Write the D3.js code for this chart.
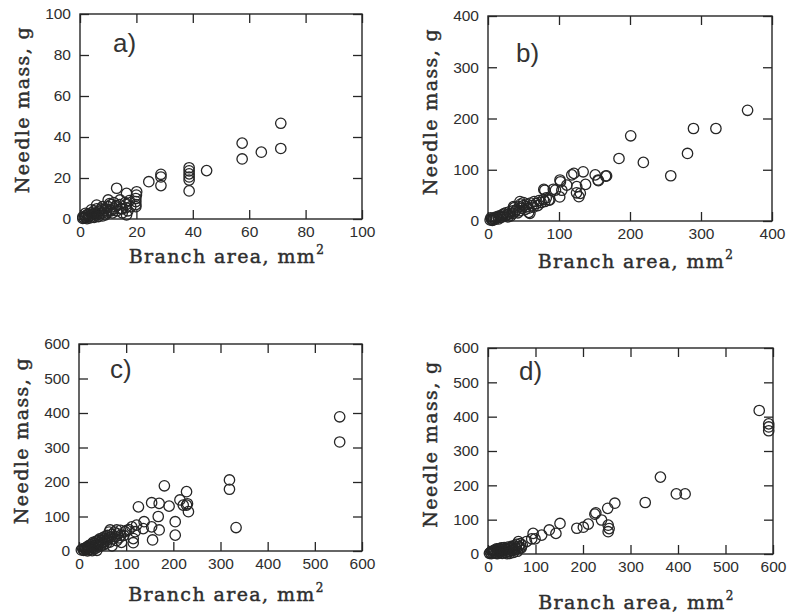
<!DOCTYPE html>
<html>
<head>
<meta charset="utf-8">
<script src="https://cdn.jsdelivr.net/npm/d3@7"></script>
<style>
  html, body { margin: 0; padding: 0; background: #fff; }
  svg { display: block; }
  .tick-label { font-family: "Liberation Sans", Arial, sans-serif; font-size: 15.5px; fill: #2e2e2e; }
  .axis-title { font-family: "DejaVu Serif", serif; font-size: 19px; fill: #2e2e2e; stroke: #2e2e2e; stroke-width: 0.45px; letter-spacing: 1.4px; }
  .panel-label { font-family: "Liberation Sans", Arial, sans-serif; font-size: 26px; fill: #333; }
</style>
</head>
<body>
<svg id="chart" width="788" height="615"></svg>
<script>
// Needle mass (g) against branch cross-sectional area (mm²), four stands.

const ticksA = [0, 20, 40, 60, 80, 100];
const ticksB = [0, 100, 200, 300, 400];
const ticksC = [0, 100, 200, 300, 400, 500, 600];
const ticksD = [0, 100, 200, 300, 400, 500, 600];

const panelLabels = ["a)", "b)", "c)", "d)"];
const xTitle = "Branch area, mm";
const yTitle = "Needle mass, g";

// [branch area, needle mass]
const pointsA = [
  [71.2, 46.7], [71.2, 34.4], [64.3, 32.6], [57.5, 37.0], [57.5, 29.3], [44.9, 23.6],
  [38.7, 25.0], [38.7, 23.5], [38.7, 22.0], [38.7, 20.5], [38.7, 19.0], [38.7, 13.7],
  [28.7, 21.8], [28.7, 20.5], [28.7, 16.3], [24.4, 18.2],
  [20.1, 13.3], [20.0, 11.7], [19.8, 10.0], [19.8, 8.5], [19.8, 7.0], [19.8, 6.0],
  [16.5, 12.5], [16.5, 2.0], [16.3, 7.0], [16.3, 5.5], [13.0, 15.0], [14.2, 9.3],
  [10.0, 9.3], [5.9, 6.8], [12.5, 6.0], [11.0, 4.0], [14.5, 5.0], [17.5, 9.0],
  [1.0, 1.0], [1.5, 0.5], [2.0, 1.5], [2.0, 0.8], [2.5, 2.0], [3.0, 1.0],
  [3.0, 2.5], [3.5, 1.5], [4.0, 2.0], [4.0, 3.0], [4.5, 1.0], [5.0, 2.5],
  [5.0, 4.0], [5.5, 3.0], [6.0, 2.0], [6.0, 5.0], [6.5, 3.5], [7.0, 4.0],
  [7.0, 2.5], [7.5, 5.0], [8.0, 3.0], [8.0, 6.0], [8.5, 4.0], [9.0, 5.0],
  [9.5, 3.0], [10.0, 6.0], [10.5, 7.5], [10.5, 4.5], [11.0, 7.0], [11.5, 3.0],
  [12.0, 5.0], [12.0, 8.0], [13.0, 4.0], [13.0, 6.5], [14.0, 7.0], [15.0, 5.0],
  [15.0, 3.0], [16.0, 8.0], [17.0, 4.0], [18.0, 6.0], [1.0, 0.3], [2.5, 0.2],
  [3.5, 0.5], [5.0, 0.8], [6.5, 1.2], [8.0, 1.5], [9.0, 2.0], [2.0, 2.8], [4.0, 4.5]
];

const pointsB = [
  [365.6, 216], [321, 180.5], [289.4, 180.5], [281, 131.8], [257.4, 88.3], [218.8, 114.3],
  [201, 166.2], [184.5, 122], [165.6, 87.7], [167, 88], [155.5, 78.6], [151, 90],
  [155, 80], [134, 96], [137.4, 71.4], [128, 47.4], [118, 90], [121, 92.9],
  [124.7, 55], [125, 67], [130, 54], [111, 70], [104, 60], [101.4, 80], [102, 76.6],
  [101, 47], [92, 62], [95, 60.4], [80, 60], [78.6, 61.7], [85.6, 40.9], [87, 41],
  [59, 15], [57.4, 16.9], [45, 38], [36, 28],
  [3, 2], [5, 4], [6, 1], [8, 5], [10, 3], [10, 7], [12, 6], [14, 9], [15, 4],
  [17, 10], [18, 7], [20, 12], [20, 8], [22, 14], [24, 10], [25, 16], [27, 12],
  [28, 8], [30, 18], [30, 14], [32, 10], [35, 20], [35, 15], [37, 26], [38, 18],
  [40, 22], [42, 16], [44, 28], [45, 20], [46, 33], [48, 25], [50, 30], [50, 36],
  [52, 22], [54, 28], [55, 33], [57, 25], [60, 35], [62, 30], [64, 27], [65, 38],
  [68, 34], [70, 30], [72, 40], [75, 36], [78, 42], [80, 38], [82, 45], [4, 6], [7, 2]
];

const pointsC = [
  [552.7, 389], [552.7, 316], [319, 206], [319, 179], [333, 68],
  [181, 189], [126, 128], [154, 140], [170, 138], [191, 130], [214, 148],
  [228, 172], [228, 133], [232, 114], [221, 133], [230, 137], [204, 85], [204, 46],
  [168, 100], [170, 61], [156, 32], [154, 70], [138, 85], [136, 65], [122, 75],
  [112, 70], [106, 62], [119, 56], [115, 24], [115, 36], [97.5, 56], [80, 61],
  [66, 61], [88, 60], [101, 60],
  [5, 3], [8, 6], [10, 2], [12, 8], [14, 4], [15, 10], [17, 6], [18, 12], [20, 3],
  [20, 15], [22, 9], [24, 18], [25, 5], [26, 13], [28, 20], [30, 10], [30, 25],
  [32, 16], [34, 22], [35, 8], [36, 28], [38, 18], [40, 30], [40, 12], [42, 24],
  [44, 35], [45, 20], [46, 15], [48, 30], [50, 38], [50, 25], [52, 18], [54, 35],
  [55, 42], [56, 28], [58, 22], [60, 45], [60, 32], [62, 38], [64, 55], [65, 26],
  [68, 40], [70, 48], [70, 15], [72, 35], [75, 55], [78, 42], [80, 30], [82, 50],
  [85, 38], [88, 45], [90, 25], [95, 45], [18, 0.5], [28, 1], [38, 2]
];

const pointsD = [
  [571, 418], [591, 379], [591, 370], [591, 359],
  [363, 224], [396.5, 175], [415, 175], [331, 150], [267, 148], [252, 133],
  [225, 116], [227, 120], [239, 99], [253, 84], [255, 74], [253, 65],
  [211, 87], [200.7, 78], [187, 75], [151.6, 89], [143, 60], [129, 70],
  [113, 55], [95, 60], [92, 44], [99, 44], [81, 36], [64, 36], [67, 17],
  [3, 2], [5, 5], [7, 1], [8, 8], [10, 3], [12, 10], [14, 5], [15, 12], [17, 2],
  [18, 15], [20, 7], [22, 11], [24, 16], [25, 4], [27, 13], [28, 18], [30, 8],
  [30, 2], [32, 14], [34, 19], [35, 10], [37, 5], [38, 16], [40, 12], [42, 20],
  [44, 7], [45, 15], [46, 2], [48, 18], [50, 10], [50, 22], [52, 16], [54, 5],
  [55, 24], [56, 12], [58, 20], [60, 28], [60, 15], [62, 8], [65, 22], [68, 30],
  [70, 18], [72, 26], [20, 1], [40, 1]
];

// Frame boxes and text offsets for the 2 x 2 grid.
const layout = [
  { left: 80,  right: 362, top: 14,  bottom: 219, label: [113, 52],  xTitleGap: 44 },
  { left: 488, right: 772, top: 16,  bottom: 221, label: [516, 62],  xTitleGap: 47 },
  { left: 79,  right: 362, top: 344, bottom: 551, label: [110, 378], xTitleGap: 50 },
  { left: 488, right: 773, top: 348, bottom: 554, label: [519, 380], xTitleGap: 55 }
];

const panels = [
  { ticks: ticksA, points: pointsA },
  { ticks: ticksB, points: pointsB },
  { ticks: ticksC, points: pointsC },
  { ticks: ticksD, points: pointsD }
];

const ink = "#262626";
const tickLen = 9;
const svg = d3.select("#chart");

panels.forEach((p, i) => {
  const L = layout[i];
  const domain = d3.extent(p.ticks);
  const x = d3.scaleLinear().domain(domain).range([L.left, L.right]);
  const y = d3.scaleLinear().domain(domain).range([L.bottom, L.top]);
  const g = svg.append("g");

  // inward ticks on all four sides, labels on bottom and left
  const axisB = d3.axisBottom(x).tickValues(p.ticks).tickSizeInner(-tickLen).tickSizeOuter(0).tickPadding(7);
  const axisT = d3.axisTop(x).tickValues(p.ticks).tickSizeInner(-tickLen).tickSizeOuter(0).tickFormat("");
  const axisLft = d3.axisLeft(y).tickValues(p.ticks).tickSizeInner(-tickLen).tickSizeOuter(0).tickPadding(9);
  const axisR = d3.axisRight(y).tickValues(p.ticks).tickSizeInner(-tickLen).tickSizeOuter(0).tickFormat("");

  const styleAxis = sel => {
    sel.select(".domain").remove();
    sel.selectAll(".tick line").attr("stroke", ink).attr("stroke-width", 1.3);
    sel.selectAll(".tick text").attr("class", "tick-label").attr("font-size", null).attr("font-family", null).attr("fill", null);
  };
  g.append("g").attr("transform", `translate(0,${L.bottom})`).call(axisB).call(styleAxis);
  g.append("g").attr("transform", `translate(0,${L.top})`).call(axisT).call(styleAxis);
  g.append("g").attr("transform", `translate(${L.left},0)`).call(axisLft).call(styleAxis);
  g.append("g").attr("transform", `translate(${L.right},0)`).call(axisR).call(styleAxis);

  g.append("rect")
    .attr("x", L.left).attr("y", L.top)
    .attr("width", L.right - L.left).attr("height", L.bottom - L.top)
    .attr("fill", "none").attr("stroke", ink).attr("stroke-width", 1.4);

  // data
  g.append("g").selectAll("circle").data(p.points).join("circle")
    .attr("cx", d => x(d[0])).attr("cy", d => y(d[1])).attr("r", 5.2)
    .attr("fill", "none").attr("stroke", ink).attr("stroke-width", 1.3);

  // panel letter
  g.append("text").attr("class", "panel-label")
    .attr("x", L.label[0]).attr("y", L.label[1]).text(panelLabels[i]);

  // x title with superscript
  const xt = g.append("text").attr("class", "axis-title")
    .attr("x", (L.left + L.right) / 2 + 6).attr("y", L.bottom + L.xTitleGap)
    .attr("text-anchor", "middle");
  xt.append("tspan").text(xTitle);
  xt.append("tspan").attr("dy", -9).attr("font-size", 12).text("2");

  // y title
  g.append("text").attr("class", "axis-title")
    .attr("transform", `translate(${L.left - 51},${(L.top + L.bottom) / 2 - 7}) rotate(-90)`)
    .attr("text-anchor", "middle")
    .text(yTitle);
});
</script>
</body>
</html>
